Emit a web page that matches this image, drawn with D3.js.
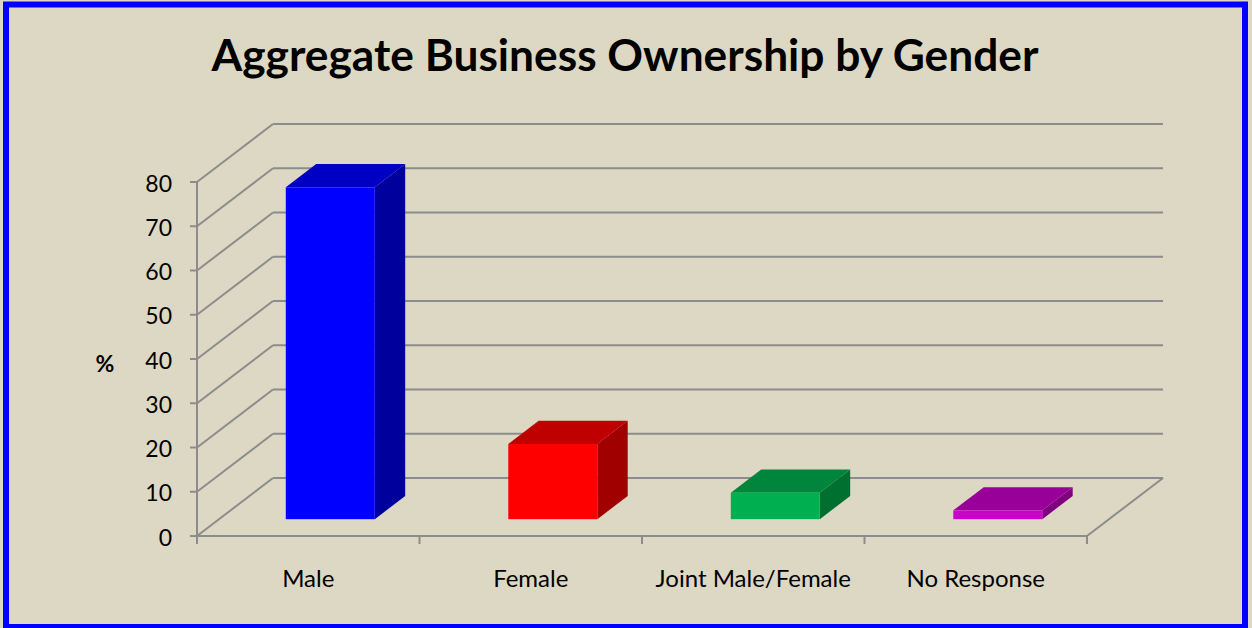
<!DOCTYPE html>
<html>
<head>
<meta charset="utf-8">
<script src="https://cdn.jsdelivr.net/npm/d3@7"></script>
<style>
  html, body { margin: 0; padding: 0; background: #ffffff; }
  svg { display: block; }
</style>
</head>
<body>
<svg id="chart" width="1252" height="628"></svg>
<script>
// ---- data ----
const categories = ["Male", "Female", "Joint Male/Female", "No Response"];
const values = [75, 17, 6, 2];
const yTicks = [0, 10, 20, 30, 40, 50, 60, 70, 80];
const title = "Aggregate Business Ownership by Gender";
const yLabel = "%";
const frontColors = ["#0000FF", "#FF0000", "#00B050", "#CC00CC"];
const topColors   = ["#0000C4", "#C00000", "#00863C", "#990099"];
const sideColors  = ["#00009C", "#A00000", "#007030", "#80007F"];

// ---- layout ----
const svg = d3.select("#chart");
const W = 1252, H = 628;
const bg = "#DDD8C3";
const gridColor = "#8C8C8C";
const font = "Lato, 'Open Sans', sans-serif";

svg.append("rect").attr("x", 0).attr("y", 0).attr("width", W).attr("height", H).attr("fill", bg);
svg.append("rect").attr("x", 6).attr("y", 4.5).attr("width", 1239).attr("height", 622.5)
  .attr("fill", "none").attr("stroke", "#0000FF").attr("stroke-width", 6);

const x0 = 197, x1 = 1087;
const y = d3.scaleLinear().domain([0, 80]).range([536, 182]);
const x = d3.scaleBand().domain(categories).range([x0, x1]).paddingInner(0).paddingOuter(0);
const DX = 76, DY = -58; // full depth offset
const px = (sx, z) => sx + DX * z;
const py = (sy, z) => sy + DY * z;

const g = svg.append("g");

// back wall gridlines
yTicks.forEach(t => {
  g.append("line")
    .attr("x1", px(x0, 1)).attr("x2", px(x1, 1))
    .attr("y1", py(y(t), 1)).attr("y2", py(y(t), 1))
    .attr("stroke", gridColor).attr("stroke-width", 2);
  // left wall diagonals
  g.append("line")
    .attr("x1", x0).attr("y1", y(t))
    .attr("x2", px(x0, 1)).attr("y2", py(y(t), 1))
    .attr("stroke", gridColor).attr("stroke-width", 2);
});
// floor front edge & right diagonal
g.append("line").attr("x1", x0).attr("x2", x1).attr("y1", y(0)).attr("y2", y(0))
  .attr("stroke", gridColor).attr("stroke-width", 2);
g.append("line").attr("x1", x1).attr("y1", y(0)).attr("x2", px(x1, 1)).attr("y2", py(y(0), 1))
  .attr("stroke", gridColor).attr("stroke-width", 2);

// front vertical axis with ticks
g.append("line").attr("x1", x0).attr("x2", x0).attr("y1", y(0) + 1).attr("y2", y(80))
  .attr("stroke", gridColor).attr("stroke-width", 2);
yTicks.forEach(t => {
  g.append("line").attr("x1", x0 - 7).attr("x2", x0).attr("y1", y(t)).attr("y2", y(t))
    .attr("stroke", gridColor).attr("stroke-width", 2);
  g.append("text").attr("x", 172).attr("y", y(t) + 1.5).attr("dy", "0.35em")
    .attr("text-anchor", "end").attr("font-family", font).attr("font-size", 23)
    .attr("fill", "#000").text(t);
});
// category ticks
const catEdges = categories.map(c => x(c)).concat([x1]);
catEdges.forEach(ex => {
  g.append("line").attr("x1", ex).attr("x2", ex).attr("y1", y(0)).attr("y2", y(0) + 8)
    .attr("stroke", gridColor).attr("stroke-width", 2);
});
// category labels
categories.forEach(c => {
  g.append("text").attr("x", x(c) + x.bandwidth() / 2).attr("y", 587)
    .attr("text-anchor", "middle").attr("font-family", font).attr("font-size", 24)
    .attr("fill", "#000").text(c);
});

// bars
const z0 = 0.29, z1 = 0.69;
const bw = x.bandwidth() * 0.4;
categories.forEach((c, i) => {
  const v = values[i];
  const L = x(c) + (x.bandwidth() - bw) / 2;
  const R = L + bw;
  const yb = y(0), yt = y(v);
  const pts = (arr) => arr.map(p => p.join(",")).join(" ");
  const fL = px(L, z0), fR = px(R, z0);
  const fT = py(yt, z0), fB = py(yb, z0);
  const bL = px(L, z1), bR = px(R, z1);
  const bT = py(yt, z1), bB = py(yb, z1);
  // side face
  g.append("polygon").attr("points", pts([[fR, fT], [bR, bT], [bR, bB], [fR, fB]]))
    .attr("fill", sideColors[i]);
  // top face
  g.append("polygon").attr("points", pts([[fL, fT], [bL, bT], [bR, bT], [fR, fT]]))
    .attr("fill", topColors[i]);
  // front face
  g.append("rect").attr("x", fL).attr("y", fT).attr("width", fR - fL).attr("height", fB - fT)
    .attr("fill", frontColors[i]);
});

// title
svg.append("text").attr("x", 625).attr("y", 71).attr("text-anchor", "middle")
  .attr("font-family", font).attr("font-weight", "bold").attr("font-size", 44)
  .attr("textLength", 827).attr("lengthAdjust", "spacingAndGlyphs")
  .attr("fill", "#000").text(title);

// y label
svg.append("text").attr("x", 105).attr("y", 364).attr("dy", "0.35em").attr("text-anchor", "middle")
  .attr("font-family", font).attr("font-weight", "bold").attr("font-size", 23)
  .attr("fill", "#000").text(yLabel);
</script>
</body>
</html>
